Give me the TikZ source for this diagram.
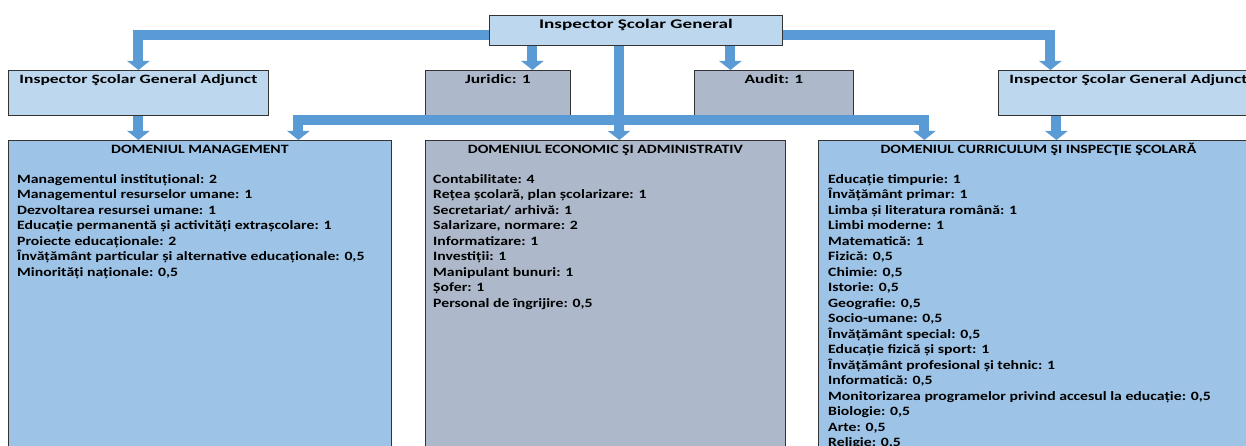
\documentclass[tikz,border=0pt]{standalone}
\usepackage{fontspec}
\setmainfont{Carlito}[FakeStretch=1.24]
\newfontfamily\headfont{Carlito}[FakeStretch=1.38]
\newfontfamily\topfont{Carlito}[FakeStretch=1.45]
\usetikzlibrary{arrows.meta}
\definecolor{lightblue}{HTML}{BDD7EE}
\definecolor{midblue}{HTML}{9DC3E6}
\definecolor{slate}{HTML}{ADB9CA}
\definecolor{conblue}{HTML}{5B9BD5}
\begin{document}
\begin{tikzpicture}[x=1pt, y=-1pt,
    font=\fontsize{12.7}{15.5}\selectfont\bfseries,
    unit/.style={draw=black!80, line width=0.8pt, anchor=north west, align=center,
        inner xsep=0pt, inner ysep=3pt, text height=10pt, font=\fontsize{12.7}{15.5}\headfont\bfseries},
    fieldbox/.style={unit, font=\fontsize{12.7}{15.5}\selectfont\bfseries, text depth=314pt},
    items/.style={anchor=north west, align=left, inner sep=0pt},
    conn/.style={draw=conblue, line width=10pt, line join=miter, -{Triangle[width=22pt,length=9pt]}},
    bar/.style={draw=conblue, line width=10pt}]
\useasboundingbox (0,0) rectangle (1246,446);
\clip (0,0) rectangle (1246,446);
% boxes
\node[unit, fill=lightblue, minimum width=293, text depth=14pt, font=\fontsize{13.2}{15.5}\topfont\bfseries] (isg) at (489,15) {Inspector Şcolar General};
\node[unit, fill=lightblue, minimum width=260, text depth=29pt] (isgaL) at (8,70) {Inspector Şcolar General Adjunct};
\node[unit, fill=slate, minimum width=145, text depth=29pt] (jur) at (425,70) {Juridic: 1};
\node[unit, fill=slate, minimum width=159, text depth=29pt] (aud) at (694,70) {Audit: 1};
\node[unit, fill=lightblue, minimum width=260, text depth=29pt] (isgaR) at (998,70) {Inspector Şcolar General Adjunct};
\node[fieldbox, fill=midblue, minimum width=383] (mgmt) at (8,140) {DOMENIUL MANAGEMENT};
\node[fieldbox, fill=slate, minimum width=360] (econ) at (425,140) {DOMENIUL ECONOMIC ŞI ADMINISTRATIV};
\node[fieldbox, fill=midblue, minimum width=440] (curr) at (818,140) {DOMENIUL CURRICULUM ŞI INSPECŢIE ŞCOLARĂ};
% lists
\node[items] (mgmtlist) at (17,174) {Managementul instituțional: 2\\
    Managementul resurselor umane: 1\\
    Dezvoltarea resursei umane: 1\\
    Educație permanentă și activități extrașcolare: 1\\
    Proiecte educaționale: 2\\
    Învățământ particular și alternative educaționale: 0,5\\
    Minorități naționale: 0,5};
\node[items] (econlist) at (433,174) {Contabilitate: 4\\
    Rețea școlară, plan școlarizare: 1\\
    Secretariat/ arhivă: 1\\
    Salarizare, normare: 2\\
    Informatizare: 1\\
    Investiții: 1\\
    Manipulant bunuri: 1\\
    Șofer: 1\\
    Personal de îngrijire: 0,5};
\node[items] (currlist) at (828,174) {Educație timpurie: 1\\
    Învățământ primar: 1\\
    Limba și literatura română: 1\\
    Limbi moderne: 1\\
    Matematică: 1\\
    Fizică: 0,5\\
    Chimie: 0,5\\
    Istorie: 0,5\\
    Geografie: 0,5\\
    Socio-umane: 0,5\\
    Învățământ special: 0,5\\
    Educație fizică și sport: 1\\
    Învățământ profesional și tehnic: 1\\
    Informatică: 0,5\\
    Monitorizarea programelor privind accesul la educație: 0,5\\
    Biologie: 0,5\\
    Arte: 0,5\\
    Religie: 0,5};
% connectors
\coordinate (rarr) at ([xshift=-78pt]isgaR.north);
\coordinate (jarr) at ([xshift=34.5pt]jur.north);
\coordinate (aarr) at ([xshift=-43.5pt]aud.north);
\coordinate (hub) at (619,120);
\coordinate (marr) at ([xshift=98.5pt]mgmt.north);
\coordinate (earr) at ([xshift=14pt]econ.north);
\coordinate (carr) at ([xshift=-114pt]curr.north);
\coordinate (rarr2) at ([xshift=-72pt]isgaR.south);
\draw[conn] ([yshift=-5pt]isg.west) -| (isgaL.north);
\draw[conn] ([yshift=-5pt]isg.east) -| (rarr);
\draw[conn] (jarr |- isg.south) -- (jarr);
\draw[conn] (aarr |- isg.south) -- (aarr);
\draw[bar] (hub |- isg.south) -- (hub);
\draw[conn] (hub) -| (marr);
\draw[conn] (hub) -| (carr);
\draw[conn] (hub) -- (earr);
\draw[conn] (isgaL.south) -- (isgaL.south |- mgmt.north);
\draw[conn] (rarr2) -- (rarr2 |- curr.north);
\end{tikzpicture}
\end{document}
